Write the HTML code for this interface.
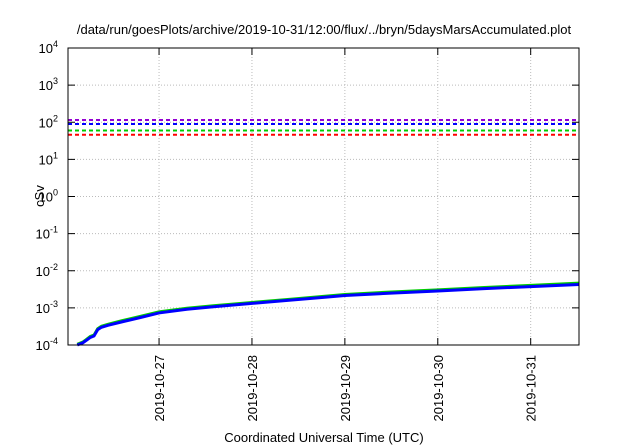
<!DOCTYPE html>
<html><head><meta charset="utf-8"><style>
html,body{margin:0;padding:0;background:#fff}
svg{display:block;font-family:"Liberation Sans",sans-serif}
</style></head><body>
<svg id="chart" width="640" height="448" viewBox="0 0 640 448" xmlns="http://www.w3.org/2000/svg">
<rect width="640" height="448" fill="#fff"/>
<text x="324" y="34" font-size="13" text-anchor="middle" fill="#000">/data/run/goesPlots/archive/2019-10-31/12:00/flux/../bryn/5daysMarsAccumulated.plot</text>
<text x="44" y="196" font-size="13" text-anchor="middle" transform="rotate(-90 44 196)">cSv</text>
<text x="324" y="442" font-size="13" text-anchor="middle">Coordinated Universal Time (UTC)</text>
<g id="grid"></g><g id="series"></g><g id="axes"></g>
</svg>
<script>
const xTickLabels=["2019-10-27","2019-10-28","2019-10-29","2019-10-30","2019-10-31"];
const xTickDays=[0,1,2,3,4];
const yTickExps=[4,3,2,1,0,-1,-2,-3,-4];
const curveDays=[-0.88,-0.82,-0.78,-0.74,-0.70,-0.66,-0.62,-0.55,-0.4,-0.2,0,0.3,0.6,1,1.4,1.8,2,2.5,3,3.5,4,4.52];
const blueValues=[1.0e-4,1.15e-4,1.35e-4,1.6e-4,1.75e-4,2.6e-4,3.0e-4,3.4e-4,4.2e-4,5.5e-4,7.3e-4,9.2e-4,1.08e-3,1.32e-3,1.6e-3,1.95e-3,2.15e-3,2.5e-3,2.85e-3,3.3e-3,3.75e-3,4.25e-3];
const greenValues=[1.05e-4,1.2e-4,1.42e-4,1.7e-4,1.85e-4,2.75e-4,3.2e-4,3.6e-4,4.5e-4,5.9e-4,7.8e-4,9.8e-4,1.15e-3,1.4e-3,1.7e-3,2.07e-3,2.3e-3,2.68e-3,3.05e-3,3.55e-3,4.05e-3,4.65e-3];
const limitValues=[115,90,60,46];
const limitColors=["#9400d3","#0000ff","#00cc00","#ff0000"];
const L=68,R=579,T=48,B=345;
const X0=-0.98,X1=4.52;
const sx=d=>L+(d-X0)/(X1-X0)*(R-L);
const sy=v=>B-(Math.log10(v)+4)/8*(B-T);
const NS="http://www.w3.org/2000/svg";
function mk(tag,parent,attrs){const e=document.createElementNS(NS,tag);for(const k in attrs)e.setAttribute(k,attrs[k]);parent.appendChild(e);return e;}
const grid=document.getElementById('grid'),series=document.getElementById('series'),axes=document.getElementById('axes');
yTickExps.forEach(e=>{const y=sy(Math.pow(10,e));
 if(e<4&&e>-4){const g=mk('line',grid,{x1:L,x2:R,y1:y,y2:y,stroke:'#bbb','stroke-dasharray':'1,2','stroke-width':1});
 }
 const t1=mk('line',axes,{x1:L,x2:L+7,y1:y,y2:y,stroke:'#000'});
 const t2=mk('line',axes,{x1:R-7,x2:R,y1:y,y2:y,stroke:'#000'});
 const tx=mk('text',axes,{x:L-10,y:y+5,'font-size':13,'text-anchor':'end'});
 
 tx.textContent='10';const s=mk('tspan',tx,{dy:-6,'font-size':9});s.textContent=String(e);
});
xTickDays.forEach((d,i)=>{const x=sx(d);
 const g=mk('line',grid,{x1:x,x2:x,y1:T,y2:B,stroke:'#bbb','stroke-dasharray':'1,2'});
 const t1=mk('line',axes,{x1:x,x2:x,y1:B-7,y2:B,stroke:'#000'});
 const t2=mk('line',axes,{x1:x,x2:x,y1:T,y2:T+7,stroke:'#000'});
 const tx=mk('text',axes,{x:0,y:0,'font-size':13,'text-anchor':'end',transform:`translate(${x+5},${B+10}) rotate(-90)`});
 tx.textContent=xTickLabels[i];
});
limitValues.forEach((v,i)=>{const y=sy(v);
 const l=mk('line',series,{x1:L,x2:R,y1:y,y2:y,stroke:limitColors[i],'stroke-width':2,'stroke-dasharray':'4,3'});
 });
function poly(vals,col,w,name){const p=mk('polyline',series,{points:curveDays.map((d,i)=>sx(d)+','+sy(vals[i])).join(' '),fill:'none',stroke:col,'stroke-width':w});
 }
poly(greenValues,'#00cc00',3,'green-series');
poly(blueValues,'#0000ff',3,'blue-series');
const fr=mk('rect',axes,{x:L,y:T,width:R-L,height:B-T,fill:'none',stroke:'#000','stroke-width':1});

</script>
</body></html>
